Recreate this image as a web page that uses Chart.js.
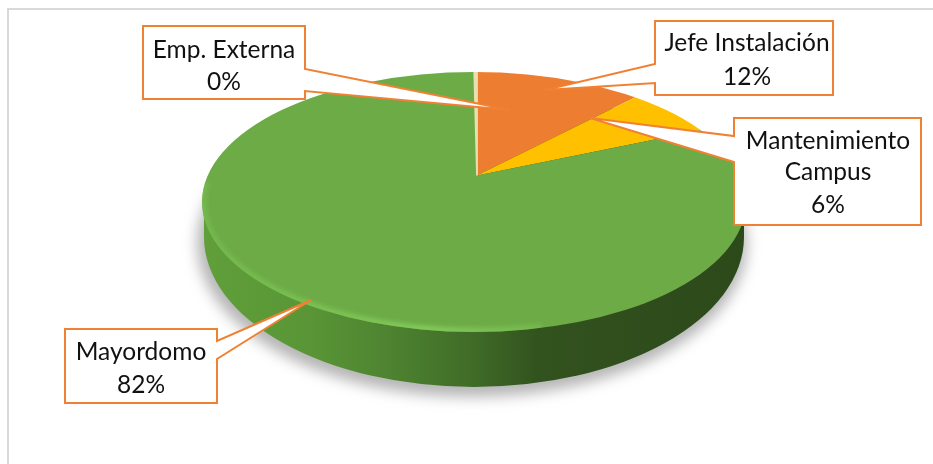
<!DOCTYPE html>
<html><head><meta charset="utf-8">
<style>html,body{margin:0;padding:0;background:#fff}canvas{display:block}</style>
<script src="https://cdn.jsdelivr.net/npm/chart.js@4"></script>
</head><body>
<canvas id="c" width="933" height="464"></canvas>
<script>
const categories = ["Jefe Instalación", "Mantenimiento Campus", "Mayordomo", "Emp. Externa"];
const shareValues = [12.2, 6.4, 81.2, 0.2];
const percentLabels = ["12%", "6%", "82%", "0%"];
const sliceColors = ["#ED7D31", "#FFC000", "#6DAB47", "#EADFB0"];

const apex = {x: 477, y: 175.5};
const face = {x: 474, y: 202, rx: 272, ry: 130};
const base = {x: 474, y: 237, rx: 270, ry: 150};
const squash = {sx: 1.8, sy: 1.8 / 2.1};
const FONT = '24.5px Lato, Carlito, sans-serif';
const ORANGE = '#F08133';
const callouts = [
  {i: 0, lines: ["Jefe Instalación"], box: [655, 21, 178, 74], side: 'L', tail: [[655, 64], [655, 83]], tip: [545, 90], tx: 747, ty: [43, 77]},
  {i: 1, lines: ["Mantenimiento", "Campus"], box: [734, 118, 187, 107], side: 'L', tail: [[734, 136], [734, 162]], tip: [590, 118], tx: 828, ty: [141, 172, 205]},
  {i: 2, lines: ["Mayordomo"], box: [65, 329, 152, 74], side: 'R', tail: [[217, 341], [217, 359]], tip: [311, 300], tx: 141, ty: [352, 385]},
  {i: 3, lines: ["Emp. Externa"], box: [143, 26, 162, 73], side: 'R', tail: [[305, 69], [305, 91]], tip: [510, 110], tx: 224, ty: [50, 82]}
];

function ellipse(ctx, e) { ctx.beginPath(); ctx.ellipse(e.x, e.y, e.rx, e.ry, 0, 0, Math.PI * 2); }

const pie3d = {
  id: 'pie3d',
  beforeDatasetsDraw(chart) {
    const ctx = chart.ctx;
    const arc = chart.getDatasetMeta(0).data[0];
    // soft shadow below the disc
    ctx.save();
    ctx.filter = 'blur(7px)';
    ctx.fillStyle = 'rgba(120,120,120,0.55)';
    ellipse(ctx, {x: base.x - 2, y: base.y + 6, rx: base.rx + 5, ry: base.ry + 4});
    ctx.fill();
    ctx.restore();
    // side wall
    const g = ctx.createLinearGradient(face.x - face.rx, 0, face.x + face.rx, 0);
    g.addColorStop(0, '#609f3a');
    g.addColorStop(0.2, '#599536');
    g.addColorStop(0.33, '#4f8531');
    g.addColorStop(0.5, '#3f6b27');
    g.addColorStop(0.62, '#32521e');
    g.addColorStop(1, '#2c491a');
    ctx.fillStyle = g;
    ellipse(ctx, base); ctx.fill();
    ctx.fillRect(face.x - face.rx + 2, face.y, face.rx * 2 - 4, base.y - face.y);
    // top face: the pie, clipped to the perspective ellipse
    ctx.save();
    ellipse(ctx, face); ctx.clip();
    ctx.translate(apex.x, apex.y);
    ctx.scale(squash.sx, squash.sy);
    ctx.translate(-arc.x, -arc.y);
  },
  afterDatasetsDraw(chart) {
    const ctx = chart.ctx;
    ctx.restore();
    // bright bevel along the lower-left rim
    ctx.save();
    ellipse(ctx, face); ctx.clip();
    const r = ctx.createLinearGradient(face.x - face.rx, 0, face.x + 170, 0);
    r.addColorStop(0, 'rgba(125,200,85,0.55)');
    r.addColorStop(0.5, 'rgba(135,210,95,0.95)');
    r.addColorStop(0.78, 'rgba(135,210,95,0.4)');
    r.addColorStop(1, 'rgba(135,210,95,0)');
    ctx.strokeStyle = r;
    ctx.lineWidth = 6;
    ctx.filter = 'blur(2.5px)';
    ctx.beginPath();
    ctx.ellipse(face.x, face.y, face.rx - 1, face.ry - 1, 0, Math.PI * 0.42, Math.PI * 1.05);
    ctx.stroke();
    ctx.restore();
  },
  afterDraw(chart) {
    const ctx = chart.ctx;
    ctx.save();
    // outer frame: only top and left edges are inside the picture
    ctx.strokeStyle = '#D9D9D9';
    ctx.lineWidth = 2;
    ctx.beginPath();
    ctx.moveTo(8, 470); ctx.lineTo(8, 9); ctx.lineTo(940, 9);
    ctx.stroke();
    ctx.font = FONT;
    ctx.textAlign = 'center';
    ctx.textBaseline = 'middle';
    callouts.forEach(c => {
      const [x, y, w, h] = c.box;
      const [t0, t1] = c.tail;
      const pts = c.side === 'R'
        ? [[x, y], [x + w, y], t0, c.tip, t1, [x + w, y + h], [x, y + h]]
        : [[x, y], [x + w, y], [x + w, y + h], [x, y + h], t1, c.tip, t0];
      ctx.fillStyle = '#fff';
      ctx.strokeStyle = ORANGE;
      ctx.lineWidth = 2;
      ctx.lineJoin = 'miter';
      ctx.beginPath();
      pts.forEach((p, k) => k ? ctx.lineTo(p[0], p[1]) : ctx.moveTo(p[0], p[1]));
      ctx.closePath();
      ctx.fill(); ctx.stroke();
      ctx.fillStyle = '#111';
      c.lines.concat(percentLabels[c.i]).forEach((t, k) => ctx.fillText(t, c.tx, c.ty[k]));
    });
    ctx.restore();
  }
};

new Chart(document.getElementById('c'), {
  type: 'pie',
  data: {
    labels: categories,
    datasets: [{data: shareValues, backgroundColor: sliceColors, borderColor: sliceColors, borderWidth: [0, 0, 0, 1], clip: false}]
  },
  options: {
    responsive: false,
    animation: false,
    layout: {padding: 0},
    plugins: {legend: {display: false}, tooltip: {enabled: false}}
  },
  plugins: [pie3d]
});
</script>
</body></html>
